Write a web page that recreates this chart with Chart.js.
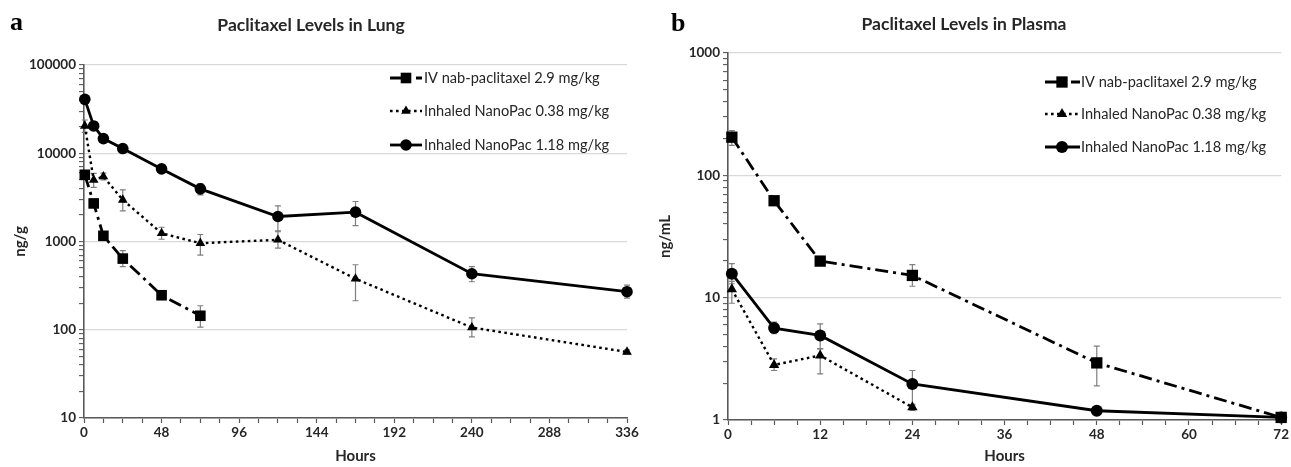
<!DOCTYPE html>
<html>
<head>
<meta charset="utf-8">
<script src="https://cdn.jsdelivr.net/npm/chart.js@4.4.1/dist/chart.umd.min.js"></script>
<style>
  body { margin: 0; background: #fff; }
  .box { position: absolute; top: 0; height: 467px; }
  #lungBox { left: 0; width: 645px; }
  #plasmaBox { left: 645px; width: 646px; }
</style>
</head>
<body>
<div id="lungBox" class="box"><canvas id="lung"></canvas></div>
<div id="plasmaBox" class="box"><canvas id="plasma"></canvas></div>
<script>
// --- data: lung (ng/g) ---
const seriesNames = ['IV nab-paclitaxel 2.9 mg/kg', 'Inhaled NanoPac 0.38 mg/kg', 'Inhaled NanoPac 1.18 mg/kg'];

const lungIvHours = [0.5, 6, 12, 24, 48, 72];
const lungIvMean  = [5700, 2700, 1160, 640, 246, 144];
const lungIvLow   = [5300, 2500, 1100, 520, 225, 107];
const lungIvHigh  = [6100, 2950, 1230, 790, 268, 187];

const lungLowHours = [0.5, 6, 12, 24, 48, 72, 120, 168, 240, 336];
const lungLowMean  = [20400, 4990, 5450, 2960, 1240, 957, 1045, 378, 106, 56];
const lungLowLow   = [17200, 4100, 5000, 2220, 1060, 700, 840, 213, 83, 53];
const lungLowHigh  = [23800, 5900, 5950, 3850, 1450, 1200, 1320, 545, 136, 59];

const lungHighHours = [0.5, 6, 12, 24, 48, 72, 120, 168, 240, 336];
const lungHighMean  = [40800, 20400, 14650, 11300, 6650, 3950, 1920, 2150, 431, 270];
const lungHighLow   = [38500, 18500, 13900, 10700, 6250, 3370, 1290, 1510, 350, 228];
const lungHighHigh  = [43500, 22300, 15400, 11900, 7100, 4520, 2530, 2840, 520, 320];

// --- data: plasma (ng/mL) ---
const plasmaIvHours = [0.5, 6, 12, 24, 48, 72];
const plasmaIvMean  = [205, 62, 19.9, 15.2, 2.93, 1.05];
const plasmaIvLow   = [176, 58, 18.8, 12.4, 1.9, 1.0];
const plasmaIvHigh  = [232, 66, 21, 18.6, 4.01, 1.1];

const plasmaLowHours = [0.5, 6, 12, 24];
const plasmaLowMean  = [11.7, 2.82, 3.37, 1.27];
const plasmaLowLow   = [9.0, 2.54, 2.38, 1.2];
const plasmaLowHigh  = [13.6, 3.16, 3.82, 1.34];

const plasmaHighHours = [0.5, 6, 12, 24, 48, 72];
const plasmaHighMean  = [15.7, 5.64, 4.91, 1.97, 1.19, 1.05];
const plasmaHighLow   = [13.0, 5.07, 3.83, 1.3, 1.15, 1.0];
const plasmaHighHigh  = [19.0, 6.3, 6.1, 2.54, 1.24, 1.1];

// --- tick labels ---
const lungXLabels = [0, 48, 96, 144, 192, 240, 288, 336];
const lungYLabels = [10, 100, 1000, 10000, 100000];
const plasmaXLabels = [0, 12, 24, 36, 48, 60, 72];
const plasmaYLabels = [1, 10, 100, 1000];

const INK = '#000';
const TEXT = '#262626';
const AXIS = '#595959';

function points(hours, mean, low, high) {
  return hours.map((h, i) => ({ x: h, y: mean[i], lo: low[i], hi: high[i] }));
}

function makeSets(ivPts, lowPts, highPts, big) {
  return [
    { label: seriesNames[0], data: ivPts, borderColor: INK, backgroundColor: INK,
      borderWidth: 2.8, borderDash: [13, 5, 3, 5], pointStyle: 'rect', pointRadius: big ? 8 : 7.5 },
    { label: seriesNames[1], data: lowPts, borderColor: INK, backgroundColor: INK,
      borderWidth: 2.4, borderDash: [2.6, 3.4], pointStyle: 'triangle', pointRadius: big ? 6 : 5.6 },
    { label: seriesNames[2], data: highPts, borderColor: INK, backgroundColor: INK,
      borderWidth: 2.8, pointStyle: 'circle', pointRadius: big ? 6 : 5.8 }
  ].map(d => Object.assign(d, { tension: 0, clip: false, pointBorderWidth: 0, pointHoverRadius: 6 }));
}

// error bars drawn through the scales
const errorBars = {
  id: 'errorBars',
  beforeDatasetsDraw(chart) {
    const { ctx, scales: { x, y } } = chart;
    ctx.save();
    ctx.strokeStyle = '#7f7f7f';
    ctx.lineWidth = 1.2;
    chart.data.datasets.forEach(ds => {
      ds.data.forEach(p => {
        const px = x.getPixelForValue(p.x);
        const t = y.getPixelForValue(p.hi);
        const b = y.getPixelForValue(p.lo);
        ctx.beginPath();
        ctx.moveTo(px, t); ctx.lineTo(px, b);
        ctx.moveTo(px - 3, t); ctx.lineTo(px + 3, t);
        ctx.moveTo(px - 3, b); ctx.lineTo(px + 3, b);
        ctx.stroke();
      });
    });
    ctx.restore();
  }
};

function drawMarker(ctx, style, r, x, y) {
  ctx.beginPath();
  if (style === 'rect') {
    const s = r / Math.SQRT2;
    ctx.rect(x - s, y - s, s * 2, s * 2);
  } else if (style === 'triangle') {
    ctx.moveTo(x, y - r);
    ctx.lineTo(x + r * 0.866, y + r * 0.5);
    ctx.lineTo(x - r * 0.866, y + r * 0.5);
    ctx.closePath();
  } else {
    ctx.arc(x, y, r, 0, Math.PI * 2);
  }
  ctx.fill();
}

// legend, title and panel letter
const decorations = {
  id: 'decorations',
  afterDraw(chart, args, opts) {
    const ctx = chart.ctx;
    ctx.save();
    ctx.fillStyle = '#000';
    ctx.font = 'bold 26px "Liberation Serif", "DejaVu Serif", serif';
    ctx.textBaseline = 'alphabetic';
    ctx.textAlign = 'left';
    ctx.fillText(opts.letter, opts.letterX, opts.letterY);

    ctx.fillStyle = TEXT;
    ctx.font = 'bold 17.5px Lato, "Open Sans", sans-serif';
    ctx.textAlign = 'center';
    ctx.fillText(opts.title, opts.titleX, opts.titleY);

    const lg = opts.legend;
    chart.data.datasets.forEach((ds, i) => {
      const yy = lg.rows[i];
      ctx.strokeStyle = INK;
      ctx.fillStyle = INK;
      ctx.lineWidth = ds.borderWidth;
      ctx.setLineDash(ds.borderDash || []);
      ctx.beginPath();
      ctx.moveTo(lg.x0, yy);
      ctx.lineTo(lg.x1, yy);
      ctx.stroke();
      ctx.setLineDash([]);
      drawMarker(ctx, ds.pointStyle, ds.pointRadius, lg.xm, yy);
      ctx.fillStyle = TEXT;
      ctx.font = '14.6px Lato, "Open Sans", sans-serif';
      ctx.textAlign = 'left';
      ctx.textBaseline = 'middle';
      ctx.fillText(ds.label, lg.xt, yy);
    });
    ctx.restore();
  }
};

function logTicks(labels) {
  const out = [];
  for (let i = 0; i < labels.length - 1; i++) {
    for (let k = 1; k <= 9; k++) out.push({ value: labels[i] * k });
  }
  out.push({ value: labels[labels.length - 1] });
  return out;
}

function linTicks(max, step) {
  const out = [];
  for (let v = 0; v <= max + 1e-9; v += step) out.push({ value: v });
  return out;
}

function makeChart(id, cfg) {
  return new Chart(document.getElementById(id), {
    type: 'line',
    data: { datasets: cfg.datasets },
    plugins: [errorBars, decorations],
    options: {
      responsive: true,
      maintainAspectRatio: false,
      animation: false,
      layout: { padding: { top: cfg.top, right: cfg.right, left: 0, bottom: 0 } },
      plugins: {
        legend: { display: false },
        tooltip: { enabled: false },
        decorations: cfg.deco
      },
      scales: {
        x: {
          type: 'linear',
          min: 0,
          max: cfg.xLabels[cfg.xLabels.length - 1],
          afterBuildTicks: s => { s.ticks = linTicks(s.max, cfg.xStep); },
          afterFit: s => { s.height = cfg.xHeight; },
          ticks: {
            autoSkip: false, maxRotation: 0, padding: 2, color: TEXT,
            font: { family: 'Lato', weight: 'bold', size: 13.5 },
            callback: v => cfg.xLabels.includes(v) ? String(v) : ''
          },
          grid: { drawOnChartArea: false, drawTicks: true, tickLength: 5, tickColor: AXIS, tickWidth: 1.2 },
          border: { color: AXIS, width: 1.6 },
          title: { display: true, text: 'Hours', color: TEXT,
            font: { family: 'Lato', weight: 'bold', size: 15 }, padding: { top: 0, bottom: 2 } }
        },
        y: {
          type: 'logarithmic',
          min: cfg.yLabels[0],
          max: cfg.yLabels[cfg.yLabels.length - 1],
          afterBuildTicks: s => { s.ticks = logTicks(cfg.yLabels); },
          afterFit: s => { s.width = cfg.yWidth; },
          ticks: {
            autoSkip: false, padding: 3, color: TEXT,
            font: { family: 'Lato', weight: 'bold', size: 13.5 },
            callback: v => cfg.yLabels.includes(v) ? String(v) : ''
          },
          grid: {
            color: c => cfg.yLabels.includes(c.tick.value) ? '#d9d9d9' : 'rgba(0,0,0,0)',
            lineWidth: 1.2, tickLength: 5, tickColor: AXIS, tickWidth: 1.1
          },
          border: { color: AXIS, width: 1.6 },
          title: { display: true, text: cfg.yTitle, color: TEXT,
            font: { family: 'Lato', weight: 'bold', size: 15 }, padding: { top: cfg.yTitlePad, bottom: 0 } }
        }
      }
    }
  });
}

makeChart('lung', {
  datasets: makeSets(points(lungIvHours, lungIvMean, lungIvLow, lungIvHigh),
                     points(lungLowHours, lungLowMean, lungLowLow, lungLowHigh),
                     points(lungHighHours, lungHighMean, lungHighLow, lungHighHigh), false),
  xLabels: lungXLabels, yLabels: lungYLabels, xStep: 12,
  top: 65, right: 18, xHeight: 49, yWidth: 84, yTitle: 'ng/g', yTitlePad: 11,
  deco: {
    letter: 'a', letterX: 10, letterY: 30,
    title: 'Paclitaxel Levels in Lung', titleX: 311, titleY: 31,
    legend: { x0: 390, x1: 422, xm: 406, xt: 424, rows: [78, 111, 145] }
  }
});

makeChart('plasma', {
  datasets: makeSets(points(plasmaIvHours, plasmaIvMean, plasmaIvLow, plasmaIvHigh),
                     points(plasmaLowHours, plasmaLowMean, plasmaLowLow, plasmaLowHigh),
                     points(plasmaHighHours, plasmaHighMean, plasmaHighLow, plasmaHighHigh), true),
  xLabels: plasmaXLabels, yLabels: plasmaYLabels, xStep: 3,
  top: 53, right: 9, xHeight: 47, yWidth: 83, yTitle: 'ng/mL', yTitlePad: 11,
  deco: {
    letter: 'b', letterX: 26, letterY: 31,
    title: 'Paclitaxel Levels in Plasma', titleX: 319, titleY: 30,
    legend: { x0: 400, x1: 435, xm: 417, xt: 436, rows: [82, 114, 147] }
  }
});
</script>
</body>
</html>
